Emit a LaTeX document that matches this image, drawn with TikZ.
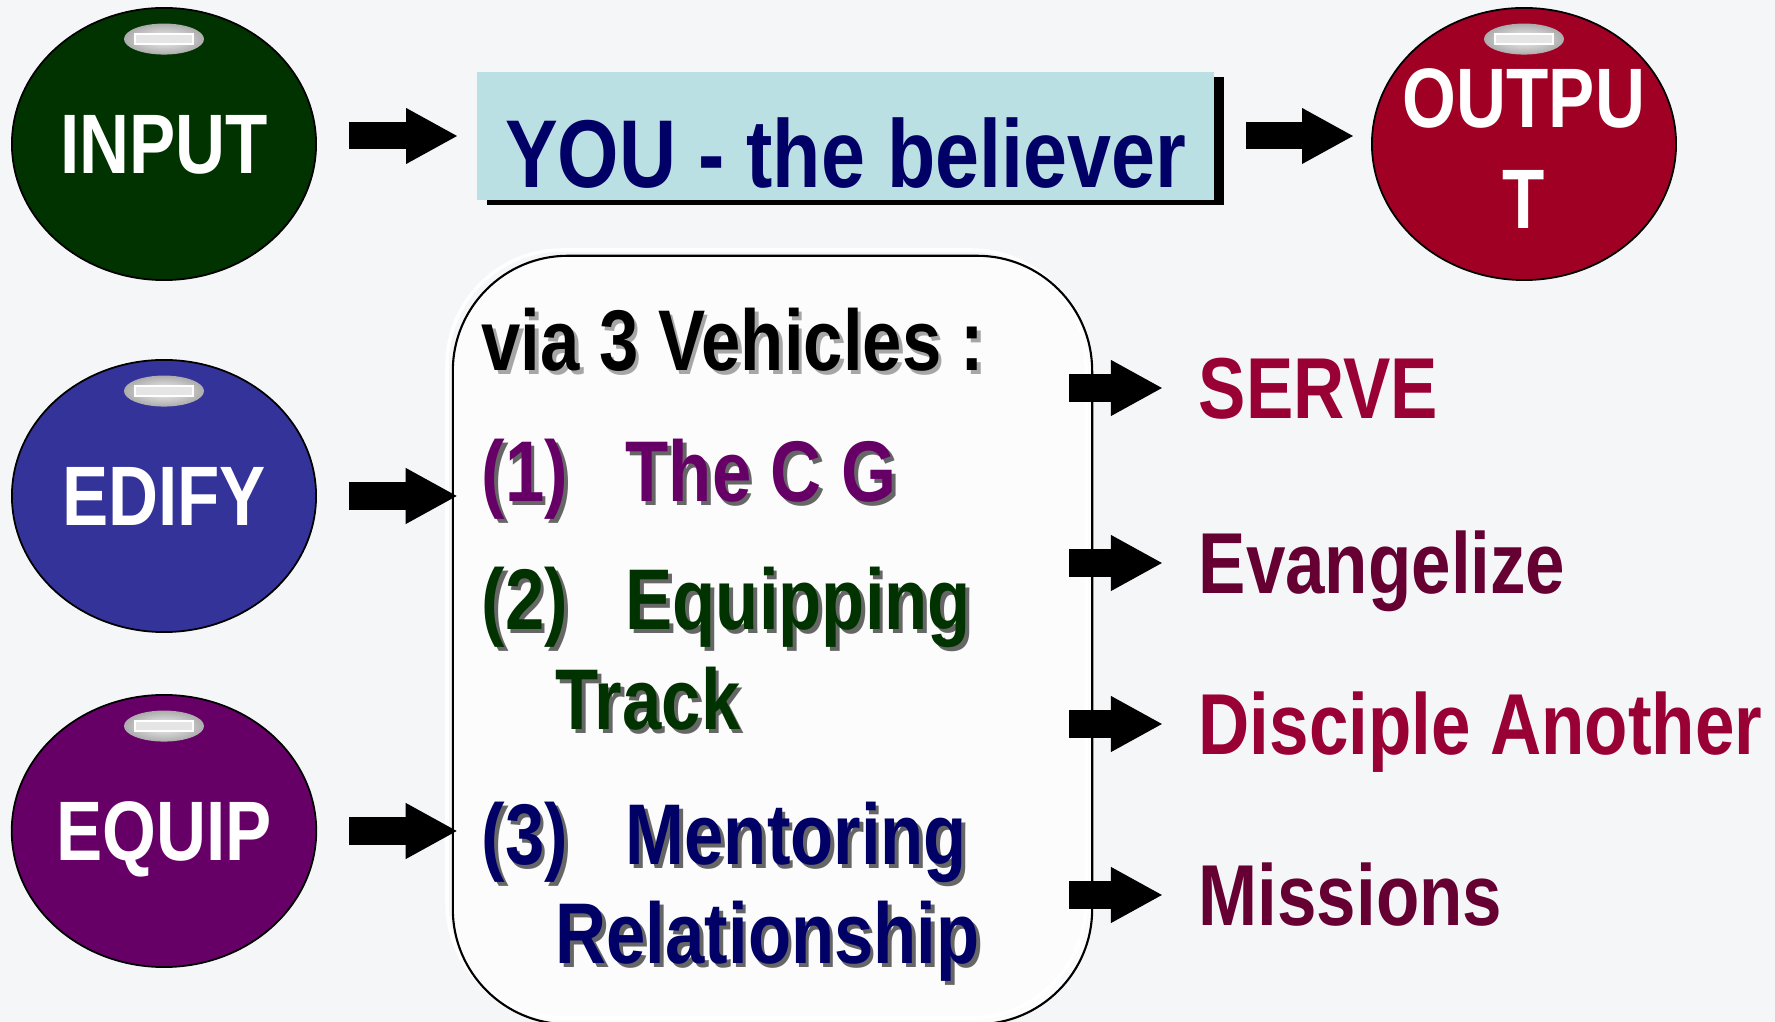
\documentclass[tikz,border=0pt]{standalone}
\usepackage{fontspec}
\setmainfont{Liberation Sans}
\newfontfamily\cond{Liberation Sans}[FakeStretch=0.82]
\usetikzlibrary{shapes.geometric,arrows.meta,shadows}

\definecolor{inputgreen}{HTML}{003300}
\definecolor{edifyblue}{HTML}{333399}
\definecolor{equippurple}{HTML}{660066}
\definecolor{outputred}{HTML}{A00024}
\definecolor{youcyan}{HTML}{BBE0E3}
\definecolor{navy}{HTML}{000066}
\definecolor{crimson}{HTML}{990033}
\definecolor{wine}{HTML}{660033}
\definecolor{bgcol}{HTML}{F5F6F8}

% text with a small offset shadow
\newcommand\shtxt[3]{\makebox[0pt][l]{\kern0.035cm\raisebox{-0.035cm}{\textcolor{#1}{#3}}}\textcolor{#2}{#3}}

\tikzset{
    ball/.style={ellipse, draw=black, line width=0.5pt, minimum width=3.04cm, minimum height=2.72cm,
        inner sep=0pt, text=white, font=\cond\bfseries\fontsize{24}{28.7}\selectfont},
    youbox/.style={rectangle, fill=youcyan, minimum width=7.37cm, minimum height=1.28cm, inner sep=0pt,
        text=navy, text height=1.02cm, text depth=0pt, font=\cond\bfseries\fontsize{27.4}{30}\selectfont,
        drop shadow={shadow xshift=0.1cm, shadow yshift=-0.05cm, fill=black, opacity=1}},
    vtext/.style={anchor=base west, inner sep=0pt, font=\cond\bfseries\fontsize{24.5}{28}\selectfont},
    outtext/.style={anchor=west, inner sep=0pt, text height=17.6pt, text depth=0pt,
        font=\cond\bfseries\fontsize{24.6}{28}\selectfont},
    blockarrow/.style={line width=0.27cm, -{Triangle[length=0.52cm, width=0.52cm]}}
}

\begin{document}
\begin{tikzpicture}[x=0.01cm, y=-0.01cm]
    \def\xball{164};
    \def\xl{481};
    \def\xm{625};
    \def\xr{1198};

    \useasboundingbox (0,0) rectangle (1775,1022);
    \fill[bgcol] (0,0) rectangle (1775,1022);

% balls on the left and right

    \node[ball, fill=inputgreen, text depth=0pt] (input) at (\xball,144) {INPUT};
    \node[ball, fill=edifyblue, text depth=0pt] (edify) at (\xball,496) {EDIFY};
    \node[ball, fill=equippurple, text depth=0pt] (equip) at (\xball,831) {EQUIP};
    \node[ball, fill=outputred, align=center] (output) at (1524,144)
        {\rule{0pt}{0.68cm}\makebox[0pt]{OUTPU}\\\makebox[0pt]{T}};

    \foreach \n in {input,edify,equip,output}{
        \shade[inner color=gray!10, outer color=gray!65] ([yshift=-0.32cm]\n.north) ellipse [x radius=0.4cm, y radius=0.155cm];
        \draw[white, line width=0.6pt, fill=gray!20] ([xshift=-0.29cm,yshift=-0.27cm]\n.north) rectangle ([xshift=0.29cm,yshift=-0.37cm]\n.north);
    }

% the believer

    \node[youbox] (you) at (845.5,136) {YOU - the believer};

% vehicles box

    \draw[white, line width=1pt, rounded corners=1.15cm] (447,250) rectangle (1086,1018);
    \node[rectangle, rounded corners=1.15cm, draw=black, line width=0.6pt, fill=white, fill opacity=0.7,
        minimum width=6.39cm, minimum height=7.68cm] (vehicles) at (772.5,640) {};

    \node[vtext] (via) at (\xl,371) {\shtxt{black!35}{black}{via 3 Vehicles :}};
    \node[vtext] (num1) at (\xl,502) {\shtxt{black!60}{equippurple}{(1)}};
    \node[vtext] (cg) at (\xm,502) {\shtxt{black!60}{equippurple}{The C G}};
    \node[vtext] (num2) at (\xl,630) {\shtxt{black!60}{inputgreen}{(2)}};
    \node[vtext] (equipping) at (\xm,630) {\shtxt{black!60}{inputgreen}{Equipping}};
    \node[vtext] (track) at (555,730) {\shtxt{black!60}{inputgreen}{Track}};
    \node[vtext] (num3) at (\xl,865) {\shtxt{black!60}{navy}{(3)}};
    \node[vtext] (mentoring) at (\xm,865) {\shtxt{black!60}{navy}{Mentoring}};
    \node[vtext] (relation) at (555,964) {\shtxt{black!60}{navy}{Relationship}};

% outputs

    \node[outtext, text=crimson] (serve) at (\xr,388) {SERVE};
    \node[outtext, text=wine] (evang) at (\xr,563) {Evangelize};
    \node[outtext, text=crimson] (disciple) at (\xr,724) {Disciple Another};
    \node[outtext, text=wine] (missions) at (\xr,895) {Missions};

% arrows

    \draw[blockarrow, shorten <=0.32cm, shorten >=0.18cm] (input.east |- you.west) -- (you.west);
    \draw[blockarrow, shorten <=0.31cm, shorten >=0.17cm] (you.east) -- (you.east -| output.west);
    \draw[blockarrow, shorten <=0.32cm, shorten >=-0.06cm] (edify.east) -- (edify.east -| vehicles.west);
    \draw[blockarrow, shorten <=0.32cm, shorten >=-0.06cm] (equip.east) -- (equip.east -| vehicles.west);
    \foreach \t in {serve,evang,disciple,missions}
        \draw[blockarrow, shorten >=0.35cm] ([xshift=-0.24cm]vehicles.east |- \t.west) -- (\t.west);

\end{tikzpicture}
\end{document}
